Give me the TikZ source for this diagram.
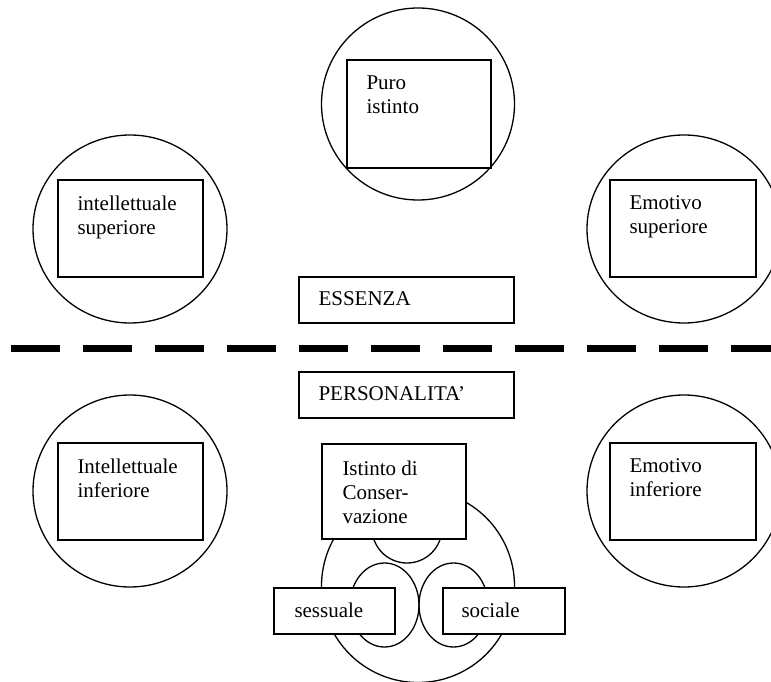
\documentclass[tikz,border=0pt]{standalone}
\usepackage{fontspec}
\setmainfont{Liberation Serif}
\usetikzlibrary{positioning,shapes.geometric}
\begin{document}
\begin{tikzpicture}[x=1pt, y=-1pt,
    ring/.style={draw, ellipse, line width=1.3pt, inner sep=0pt},
    panel/.style={draw, fill=white, line width=1.4pt, inner sep=0pt},
    txt/.style={align=left, inner sep=0pt, font=\fontsize{21}{24}\selectfont}]
    \useasboundingbox[fill=white] (0,0) rectangle (771,682);

    % centri (cerchi grandi)
    \node[ring, minimum width=193pt, minimum height=192pt] (cPuro) at (418, 104) {};
    \node[ring, minimum width=194pt, minimum height=188pt] (cIntSup) at (130, 229) {};
    \node[ring, minimum width=194pt, minimum height=188pt] (cEmoSup) at (684, 229) {};
    \node[ring, minimum width=194pt, minimum height=192pt] (cIntInf) at (130, 491) {};
    \node[ring, minimum width=194pt, minimum height=192pt] (cEmoInf) at (684, 491) {};
    \node[ring, minimum width=193pt, minimum height=193pt] (cIstinto) at (418, 586) {};

    % tre istinti
    \node[ring, minimum width=70pt, minimum height=70pt] (sCons) at (407, 528) {};
    \node[ring, minimum width=69pt, minimum height=84pt] (sSess) at (384.5, 605) {};
    \node[ring, minimum width=69pt, minimum height=84pt] (sSoc) at (453.5, 605) {};

    % riquadri
    \node[panel, minimum width=144pt, minimum height=108pt] (bPuro) at (419, 114) {};
    \node[panel, minimum width=145pt, minimum height=97pt] (bIntSup) at (130.5, 228.5) {};
    \node[panel, minimum width=146pt, minimum height=97pt] (bEmoSup) at (683, 228.5) {};
    \node[panel, minimum width=215pt, minimum height=46pt] (bEssenza) at (406.5, 300) {};
    \node[panel, minimum width=215pt, minimum height=46pt] (bPers) at (406.5, 395) {};
    \node[panel, minimum width=145pt, minimum height=97pt] (bIntInf) at (130.5, 491.5) {};
    \node[panel, minimum width=146pt, minimum height=97pt] (bEmoInf) at (683, 491.5) {};
    \node[panel, minimum width=144pt, minimum height=95pt] (bIstinto) at (394, 491.5) {};
    \node[panel, minimum width=121pt, minimum height=46pt] (bSess) at (334.5, 611) {};
    \node[panel, minimum width=122pt, minimum height=46pt] (bSoc) at (504, 611) {};

    % testi
    \node[txt, below right=16pt and 20pt of bPuro.north west] (tPuro) {Puro\\istinto};
    \node[txt, below right=16pt and 20pt of bIntSup.north west] (tIntSup) {intellettuale\\superiore};
    \node[txt, below right=16pt and 20pt of bEmoSup.north west] (tEmoSup) {Emotivo\\superiore};
    \node[txt, below right=15pt and 20pt of bEssenza.north west] (tEssenza) {ESSENZA};
    \node[txt, below right=15pt and 20pt of bPers.north west] (tPers) {PERSONALITA’};
    \node[txt, below right=16pt and 20pt of bIntInf.north west] (tIntInf) {Intellettuale\\inferiore};
    \node[txt, below right=16pt and 20pt of bEmoInf.north west] (tEmoInf) {Emotivo\\inferiore};
    \node[txt, below right=17pt and 21pt of bIstinto.north west] (tIstinto) {Istinto di\\Conser-\\vazione};
    \node[txt, below right=15pt and 21pt of bSess.north west] (tSess) {sessuale};
    \node[txt, below right=15pt and 19pt of bSoc.north west] (tSoc) {sociale};

    % linea di separazione
    \coordinate (sepL) at (11, 348);
    \coordinate (sepR) at (771, 348);
    \draw[line width=7pt, dash pattern=on 49pt off 23pt] (sepL) -- (sepR);
\end{tikzpicture}
\end{document}
